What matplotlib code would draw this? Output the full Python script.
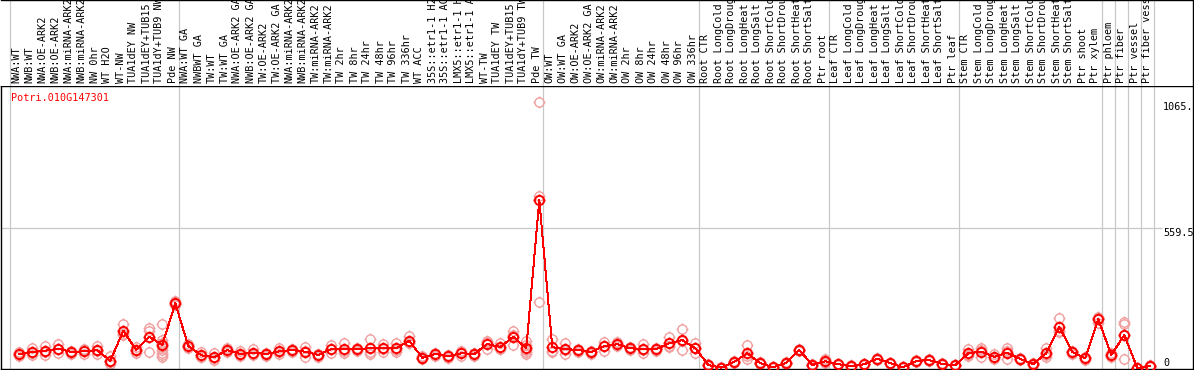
import matplotlib
matplotlib.use('Agg')
import matplotlib.pyplot as plt
import numpy as np
from matplotlib.path import Path

# sample labels, grouped by experiment
grp_nw = ["NWA:WT", "NWB:WT", "NWA:OE-ARK2", "NWB:OE-ARK2", "NWA:miRNA-ARK2",
          "NWB:miRNA-ARK2", "NW 0hr", "WT H2O", "WT-NW", "TUA1dEY NW",
          "TUA1dEY+TUB15 NW", "TUA1dY+TUB9 NW", "Pde NW"]
grp_tw = ["NWA:WT GA", "NWBWT GA", "TW:WT", "TW:WT GA", "NWA:OE-ARK2 GA",
          "NWB:OE-ARK2 GA", "TW:OE-ARK2", "TW:OE-ARK2 GA", "NWA:miRNA-ARK2",
          "NWB:miRNA-ARK2", "TW:miRNA-ARK2", "TW:miRNA-ARK2", "TW 2hr", "TW 8hr",
          "TW 24hr", "TW 48hr", "TW 96hr", "TW 336hr", "WT ACC", "35S::etr1-1 H2O",
          "35S::etr1-1 ACC", "LMX5::etr1-1 H2O", "LMX5::etr1-1 ACC", "WT-TW",
          "TUA1dEY TW", "TUA1dEY+TUB15 TW", "TUA1dY+TUB9 TW", "Pde TW"]
grp_ow = ["OW:WT", "OW:WT GA", "OW:OE-ARK2", "OW:OE-ARK2 GA", "OW:miRNA-ARK2",
          "OW:miRNA-ARK2", "OW 2hr", "OW 8hr", "OW 24hr", "OW 48hr", "OW 96hr",
          "OW 336hr"]
stress = ["CTR", "LongCold", "LongDrought", "LongHeat", "LongSalt", "ShortCold",
          "ShortDrought", "ShortHeat", "ShortSalt"]
grp_root = ["Root " + s for s in stress] + ["Ptr root"]
grp_leaf = ["Leaf " + s for s in stress] + ["Ptr leaf"]
grp_stem = ["Stem " + s for s in stress] + ["Ptr shoot", "Ptr xylem"]
grp_ptr = ["Ptr phloem", "Ptr fiber", "Ptr vessel", "Ptr fiber vessel"]

groups = [grp_nw, grp_tw, grp_ow, grp_root, grp_leaf, grp_stem,
          grp_ptr[:1], grp_ptr[1:2], grp_ptr[2:3], grp_ptr[3:]]
labels = sum(groups, [])

gene = "Potri.010G147301"
ytick_vals = [0, 559.5, 1065]
ytick_text = ["0", "559.5", "1065."]

means = [56, 64, 69, 77, 64, 67, 71, 29, 149, 72, 125, 92, 259,
         88, 51, 43, 72, 56, 61, 56, 67, 72, 65, 52, 76, 76, 76, 79, 79, 79,
         109, 41, 56, 47, 59, 56, 96, 84, 125, 79, 672,
         83, 76, 72, 64, 88, 95, 79, 75, 76, 99, 112, 79,
         12, 1, 25, 59, 19, 3, 21, 72, 12, 27,
         15, 8, 15, 37, 19, 3, 28, 32, 16, 11,
         59, 65, 45, 61, 36, 16, 59, 165, 64, 39, 195,
         52, 132, 0, 8]

reps = [(48, 56, 65), (52, 60, 80), (52, 66, 89), (60, 75, 96), (58, 64, 70),
        (56, 68, 76), (56, 69, 88), (16, 23, 48), (132, 136, 176), (61, 70, 85),
        (63, 150, 162), (176, 112, 100, 84, 72, 52, 61, 45), (252, 258, 268),
        (81, 88, 96), (43, 46, 65), (32, 40, 59), (64, 72, 80), (48, 52, 69),
        (52, 57, 75), (50, 56, 62), (56, 65, 80), (66, 72, 78), (45, 67, 83),
        (46, 52, 58), (59, 76, 92), (61, 68, 99), (70, 76, 82), (56, 66, 115),
        (65, 77, 95), (65, 73, 99), (99, 99, 129), (36, 41, 47), (50, 56, 62),
        (42, 47, 52), (48, 60, 69), (50, 56, 62), (76, 105, 107), (75, 78, 99),
        (92, 134, 149), (56, 65, 92, 109, 73), (1065, 688, 263),
        (65, 69, 115), (56, 73, 99), (66, 72, 78), (58, 64, 70), (69, 90, 105),
        (88, 93, 104), (73, 79, 85), (59, 71, 95), (70, 76, 82), (84, 88, 125),
        (72, 108, 156), (59, 79, 99),
        (8, 12, 16), (0, 1, 3), (20, 25, 30), (36, 49, 92), (15, 19, 23),
        (1, 3, 5), (17, 21, 25), (68, 72, 76), (9, 12, 15), (19, 25, 37),
        (12, 15, 18), (5, 8, 11), (12, 15, 18), (33, 37, 41), (16, 19, 22),
        (1, 3, 5), (24, 28, 32), (29, 32, 35), (13, 16, 19), (8, 11, 14),
        (48, 54, 75), (45, 71, 79), (35, 44, 56), (37, 67, 79), (32, 36, 40),
        (13, 16, 19), (45, 53, 79), (144, 150, 201), (58, 64, 70), (33, 39, 45),
        (179, 201, 205),
        (44, 52, 60), (175, 185, 36), (0, 0, 0), (5, 8, 11)]

# circle with four little ticks
circ = Path.unit_circle()
ticks = [Path([(0, 1), (0, 1.3)]), Path([(0, -1), (0, -1.3)]),
         Path([(1, 0), (1.3, 0)]), Path([(-1, 0), (-1.3, 0)])]
mk = Path.make_compound_path(circ, *ticks)

W, H = 1194, 370
fig = plt.figure(figsize=(W / 100, H / 100), dpi=100)
ax = fig.add_axes([1 / W, 1 / H, 1192 / W, 283 / H])
lab = fig.add_axes([1 / W, 284 / H, 1192 / W, 86 / H])

xlim = (-9 / 13, 1183 / 13)
n = len(labels)
x = np.arange(n)
px = x + 0.715

# replicates
for i, r in enumerate(reps):
    ax.plot([px[i]] * len(r), r, ls='none', marker=mk, ms=8.6, mfc='none',
            mec='#f0a0a0', mew=1.0, zorder=2, clip_on=False, antialiased=False)
ax.plot(px, means, color='red', lw=0.72, zorder=3, antialiased=False)
ax.plot(px, means, ls='none', marker=mk, ms=8.6, mfc='none', mec='red',
        mew=1.4, zorder=4, clip_on=False, antialiased=False)

ax.set_xlim(xlim)
ax.set_ylim(-4, 1128)
ax.set_xticks([])
ax.set_yticks([])
for s in ax.spines.values():
    s.set_linewidth(1.0)

bounds = np.cumsum([0] + [len(g) for g in groups])
for b in bounds:
    ax.axvline(b, color='#c8c8c8', lw=0.9, zorder=1)
    lab.axvline(b, color='#c8c8c8', lw=0.9, zorder=1)
ax.hlines(559.5, xlim[0], 88.6, color='#c8c8c8', lw=0.9, zorder=1)

for v, t in zip(ytick_vals, ytick_text):
    ax.text(88.7, v, t, fontsize=7.3, family='DejaVu Sans Mono',
            va='bottom' if v == 0 else 'top', ha='left')

ax.text(0.05, 1060, gene, color='red', fontsize=7.3,
        family='DejaVu Sans Mono', va='bottom', ha='left')

lab.set_xlim(xlim)
lab.set_ylim(0, 86)
lab.set_xticks([])
lab.set_yticks([])
lab.spines['left'].set_visible(False)
lab.spines['bottom'].set_visible(False)
lab.spines['top'].set_linewidth(1.0)
lab.spines['right'].set_linewidth(1.0)
for i, t in enumerate(labels):
    lab.text(i + 0.5, 3, t, rotation=90, fontsize=7.3,
             family='DejaVu Sans Mono', ha='center', va='bottom', clip_on=True)

fig.savefig('out.png', dpi=100)
